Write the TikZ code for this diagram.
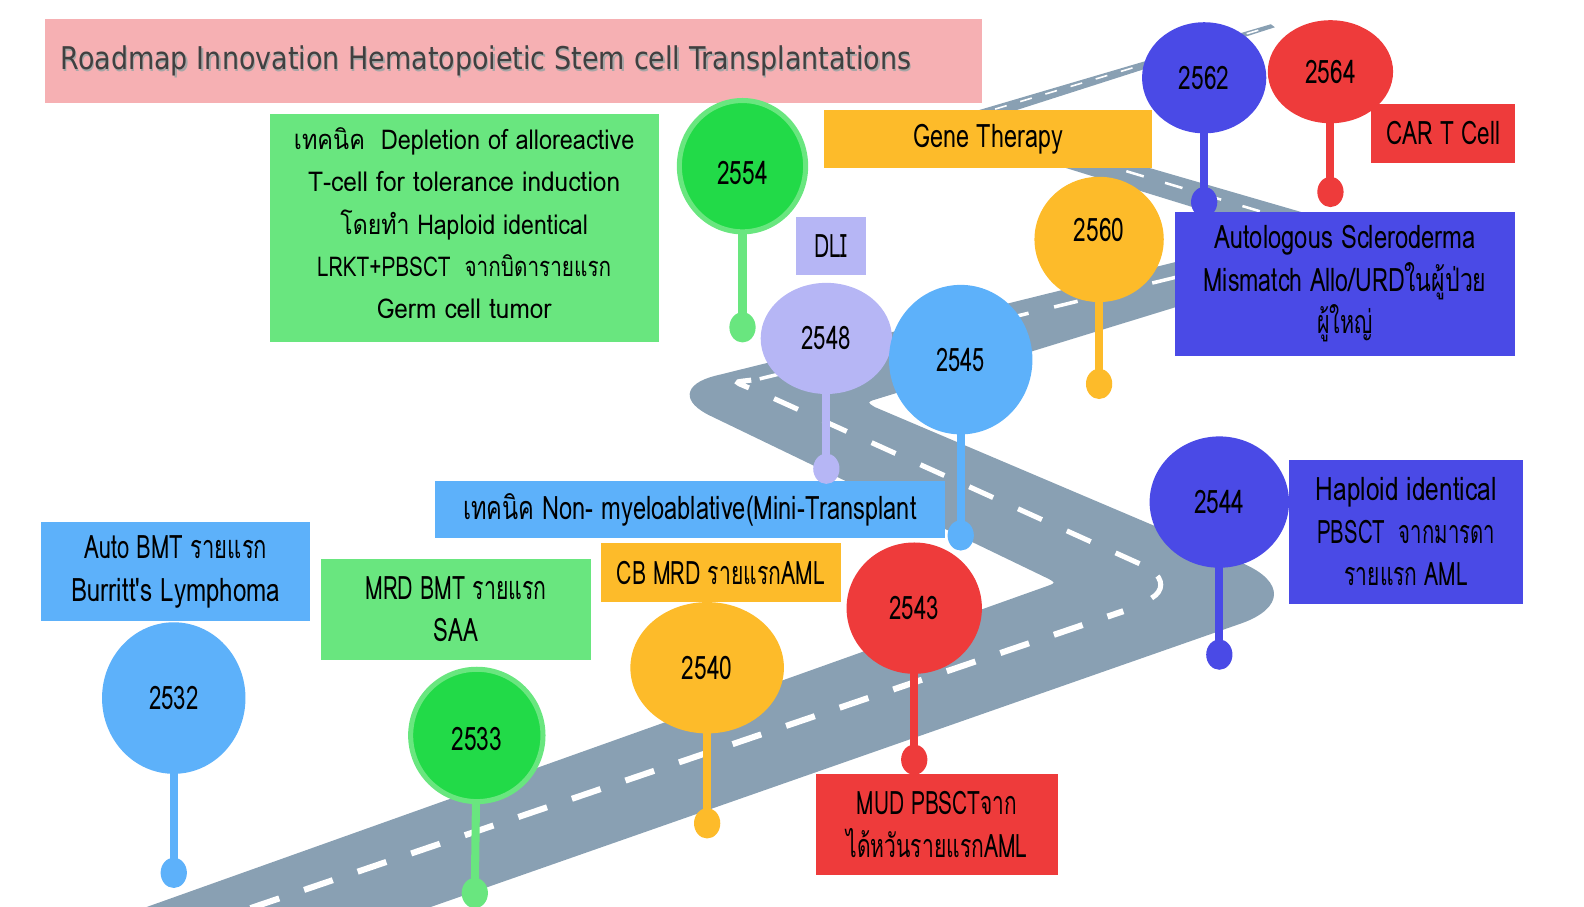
\documentclass[tikz,border=0pt]{standalone}
\usepackage{fontspec}
\usepackage{graphicx}
\setmainfont[Script=Thai]{Loma}
\newfontfamily\titlefont{DejaVu Sans}
\usetikzlibrary{shapes.geometric}

\definecolor{roadc}{RGB}{137,160,179}
\definecolor{pinkc}{RGB}{246,176,179}
\definecolor{ltgreen}{RGB}{105,230,127}
\definecolor{dkgreen}{RGB}{34,218,72}
\definecolor{amber}{RGB}{253,187,42}
\definecolor{dkblue}{RGB}{74,74,230}
\definecolor{redc}{RGB}{238,59,59}
\definecolor{lavender}{RGB}{182,182,245}
\definecolor{ltblue}{RGB}{93,177,250}
\definecolor{titlegray}{RGB}{64,64,64}

\newcommand\fw[2]{\resizebox{#1pt}{\height}{#2}}
\newcommand\numlift[2]{\raisebox{#1}[\height][\depth]{#2}}
\newcommand\shadowtext[1]{{\makebox[0pt][l]{\kern1.5pt\raisebox{-2pt}[\height][\depth]{\color{black!35}#1}}\color{titlegray}#1}}
\newcommand\boxfont{\fontsize{32}{42}\selectfont\lineskiplimit=-60pt\relax}
\newcommand\depfont{\fontsize{27}{41.75}\selectfont\lineskiplimit=-60pt\relax}

\begin{document}
\begin{tikzpicture}[x=1pt,y=-1pt,
  box/.style={rectangle, inner sep=0pt, draw=none, align=center, font=\boxfont},
  depbox/.style={rectangle, inner sep=0pt, draw=none, font=\depfont},
  pinball/.style={ellipse, inner sep=0pt, draw=none, font=\fontsize{32}{36}\selectfont},
  pindot/.style={ellipse, inner sep=0pt, draw=none, minimum width=26pt, minimum height=30pt},
  stick/.style={line width=8pt, shorten <=-3pt, shorten >=-3pt},
  dashA/.style={draw=white, line width=6pt, dash pattern=on 30pt off 26pt},
  dashB/.style={draw=white, line width=5pt, dash pattern=on 26pt off 27pt},
  dashC/.style={draw=white, line width=3.5pt, dash pattern=on 24pt off 26pt},
  dashD/.style={draw=white, line width=2.5pt, dash pattern=on 18pt off 22pt},
  dashE/.style={draw=white, line width=1.6pt, dash pattern=on 12pt off 14pt}]
\useasboundingbox (0,0) rectangle (1568,897);

% ---------- road ----------
\begin{scope}
\clip (0,0) rectangle (1568,897);
\fill[roadc] (97,915)
  -- (1037,580) .. controls (1045,577) .. (1038,573)
  -- (704,412) .. controls (674,398) and (676,380) .. (708,372)
  -- (1323,220)
  -- (975,119)
  -- (1262,27) -- (1258,24)
  -- (918,124)
  -- (1333,252)
  -- (868,395) .. controls (858,398) .. (866,403)
  -- (1231,558) .. controls (1272,576) and (1271,602) .. (1229,617)
  -- (403,906) -- (377,915) -- cycle;
\draw[dashA] (195,917) -- (1112,605);
\draw[dashB] (1140,592) .. controls (1152,585) and (1152,573) .. (1140,565);
\draw[dashB] (1128,558) -- (765,394) .. controls (720,374) and (722,380) .. (752,375);
\draw[dashC] (752,375) -- (1170,273);
\draw[dashD] (1000,135) -- (1300,225);
\draw[dashE] (985,108) -- (1252,28);
\end{scope}

% ---------- title ----------
\node[box, fill=pinkc, minimum width=927pt, minimum height=83pt, text width=897pt,
      align=left, inner xsep=15pt, font=\titlefont\fontsize{31}{36}\selectfont]
  (title) at (508.5,60.5)
  {\fw{842}{\shadowtext{Roadmap Innovation Hematopoietic Stem cell Transplantations}}};

% ---------- boxes ----------
\node[depbox, fill=ltgreen, minimum width=385pt, minimum height=226pt] (dep) at (459.5,226)
  {\raisebox{5pt}[\height][\depth]{\parbox{380pt}{\centering\depfont
   \fw{337}{เทคนิค\ \ Depletion of alloreactive}\par
   \fw{309}{T-cell for tolerance induction}\par
   \fw{245}{โดยทำ Haploid identical}\par
   \fw{291}{LRKT+PBSCT\ \ จากบิดารายแรก}\par
   \fw{173}{Germ cell tumor}}}};
\node[box, fill=amber, minimum width=324pt, minimum height=57pt] (gene) at (978,137.5)
  {\fw{148}{Gene Therapy}};
\node[box, fill=redc, minimum width=143pt, minimum height=58pt] (cart) at (1428.5,132)
  {\fw{113}{CAR T Cell}};
\node[box, fill=dkblue, minimum width=337pt, minimum height=142pt] (autol) at (1331.5,281)
  {\fw{259}{Autologous Scleroderma}\\
   \fw{280}{Mismatch Allo/URDในผู้ป่วย}\\
   \fw{55}{ผู้ใหญ่}};
\node[box, fill=lavender, minimum width=69pt, minimum height=57pt] (dli) at (822.5,243.5)
  {\fw{33}{DLI}};
\node[box, fill=ltblue, minimum width=504pt, minimum height=57pt] (nonmy) at (683,504.5)
  {\fw{449}{เทคนิค Non- myeloablative(Mini-Transplant}};
\node[box, fill=dkblue, minimum width=232pt, minimum height=143pt] (haplo) at (1392,526.5)
  {\fw{179}{Haploid identical}\\
   \fw{176}{PBSCT\ \ จากมารดา}\\
   \fw{122}{รายแรก AML}};
\node[box, fill=ltblue, minimum width=266pt, minimum height=98pt] (autobmt) at (174,566)
  {\fw{181}{Auto BMT รายแรก}\\
   \fw{207}{Burritt\textquotesingle s Lymphoma}};
\node[box, fill=ltgreen, minimum width=267pt, minimum height=100pt] (mrd) at (451.5,603)
  {\fw{179}{MRD BMT รายแรก}\\
   \fw{44}{SAA}};
\node[box, fill=amber, minimum width=237pt, minimum height=58pt] (cbmrd) at (713.5,567)
  {\fw{206}{CB MRD รายแรกAML}};
\node[box, fill=redc, minimum width=239pt, minimum height=100pt] (mud) at (927.5,816)
  {\fw{159}{MUD PBSCTจาก}\\
   \fw{179}{ได้หวันรายแรกAML}};

% ---------- pins ----------
\node[pinball, fill=dkgreen, draw=ltgreen, line width=5pt, minimum width=125pt, minimum height=130pt]
  (p2554) at (735,164.5) {\numlift{-7pt}{\fw{50}{2554}}};
\node[pindot, fill=ltgreen] (d2554) at (735,324) {};
\draw[stick, ltgreen] (p2554) -- (d2554);

\node[pinball, fill=dkblue, minimum width=123pt, minimum height=110pt] (p2562) at (1192,77) {\fw{50}{2562}};
\node[pindot, fill=dkblue] (d2562) at (1192,200) {};
\draw[stick, dkblue] (p2562) -- (d2562);

\node[pinball, fill=redc, minimum width=124pt, minimum height=102pt] (p2564) at (1317,71) {\fw{50}{2564}};
\node[pindot, fill=redc] (d2564) at (1317,190) {};
\draw[stick, redc] (p2564) -- (d2564);

\node[pinball, fill=amber, minimum width=128pt, minimum height=124pt] (p2560) at (1088,237) {\numlift{9pt}{\fw{50}{2560}}};
\node[pindot, fill=amber] (d2560) at (1088,380) {};
\draw[stick, amber] (p2560) -- (d2560);

\node[pinball, fill=lavender, minimum width=130pt, minimum height=110pt] (p2548) at (818,335) {\fw{49}{2548}};
\node[pindot, fill=lavender] (d2548) at (818,464) {};
\draw[stick, lavender] (p2548) -- (d2548);

\node[pinball, fill=ltblue, minimum width=142pt, minimum height=148pt] (p2545) at (951,356) {\fw{48}{2545}};
\node[pindot, fill=ltblue] (d2545) at (951,530) {};
\draw[stick, ltblue] (p2545) -- (d2545);

\node[pinball, fill=dkblue, minimum width=138pt, minimum height=130pt] (p2544) at (1207,497) {\fw{50}{2544}};
\node[pindot, fill=dkblue] (d2544) at (1207,648) {};
\draw[stick, dkblue] (p2544) -- (d2544);

\node[pinball, fill=ltblue, minimum width=142pt, minimum height=150pt] (p2532) at (172,691) {\fw{49}{2532}};
\node[pindot, fill=ltblue] (d2532) at (172,864) {};
\draw[stick, ltblue] (p2532) -- (d2532);

\node[pinball, fill=dkgreen, draw=ltgreen, line width=5pt, minimum width=131pt, minimum height=131pt]
  (p2533) at (472,728) {\numlift{-4pt}{\fw{50}{2533}}};
\node[pindot, fill=ltgreen] (d2533) at (470,884) {};
\draw[stick, ltgreen] (p2533) -- (d2533);

\node[pinball, fill=amber, minimum width=152pt, minimum height=130pt] (p2540) at (700,661) {\fw{50}{2540}};
\node[pindot, fill=amber] (d2540) at (700,815) {};
\draw[stick, amber] (p2540) -- (d2540);

\node[pinball, fill=redc, minimum width=134pt, minimum height=130pt] (p2543) at (905,602) {\fw{49}{2543}};
\node[pindot, fill=redc] (d2543) at (905,752) {};
\draw[stick, redc] (p2543) -- (d2543);

\end{tikzpicture}
\end{document}
